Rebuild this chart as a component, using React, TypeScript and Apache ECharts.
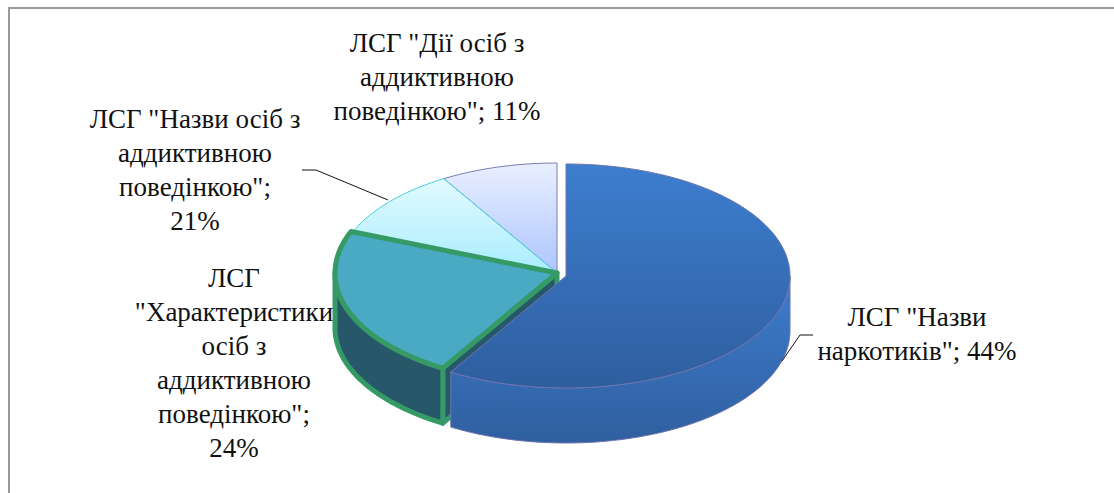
import React, { useEffect, useRef } from "react";
import * as echarts from "echarts";

const categories = [
  'ЛСГ "Назви наркотиків"',
  'ЛСГ "Характеристики осіб з аддиктивною поведінкою"',
  'ЛСГ "Назви осіб з аддиктивною поведінкою"',
  'ЛСГ "Дії осіб з аддиктивною поведінкою"',
];
// Share of the full turn each slice occupies in the picture (the drawn slices differ from their printed labels)
const drawnShares = [58.6, 22.5, 10.3, 8.6];
const labelLines = [
  ['ЛСГ "Назви', 'наркотиків"; 44%'],
  ["ЛСГ", '"Характеристики', "осіб з", "аддиктивною", 'поведінкою";', "24%"],
  ['ЛСГ "Назви осіб з', "аддиктивною", 'поведінкою";', "21%"],
  ['ЛСГ "Дії осіб з', "аддиктивною", 'поведінкою"; 11%'],
];

const FONT = '"Liberation Serif","Times New Roman",serif';

const looks = [
  { cx: 566, cy: 276, rx: 224, ry: 112, depth: 55,
    top: ["#3D7ECF", "#2F5E9F"], side: ["#3E7DCE", "#2F5F9F"], stroke: "#6E74AE", width: 1 },
  { cx: 557, cy: 273, rx: 222, ry: 111, depth: 55,
    top: ["#4AAAC4", "#4AAAC4"], side: ["#26586A", "#26586A"], stroke: "#369A66", width: 5 },
  { cx: 557, cy: 273, rx: 220, ry: 110, depth: 0,
    top: ["#E2FAFF", "#A9EDFE"], side: null, stroke: "#45CDD6", width: 1 },
  { cx: 557, cy: 273, rx: 220, ry: 110, depth: 0,
    top: ["#E9EFFF", "#ADC6FE"], side: null, stroke: "#7A7CB4", width: 1 },
];
const labelBoxes = [
  { x: 917, y: 303 },
  { x: 234, y: 264 },
  { x: 195, y: 105.5 },
  { x: 437, y: 29.5 },
];
const LINE_H = 34;
const leaders = [
  [[813, 335], [800, 335], [782, 361]],
  [[302, 170], [316, 170], [388, 200]],
];

function arc(l: any, a0: number, a1: number, dy = 0) {
  const pts: number[][] = [];
  const n = Math.max(2, Math.ceil(Math.abs(a1 - a0)));
  for (let i = 0; i <= n; i++) {
    const a = ((a0 + ((a1 - a0) * i) / n) * Math.PI) / 180;
    pts.push([l.cx + l.rx * Math.sin(a), l.cy - l.ry * Math.cos(a) + dy]);
  }
  return pts;
}
const grad = (c: string[]) =>
  new echarts.graphic.LinearGradient(0, 0, 0, 1, [
    { offset: 0, color: c[0] },
    { offset: 1, color: c[1] },
  ]);

function renderSlice(params: any, api: any) {
  const i = params.dataIndex;
  const l = looks[i];
  const total = drawnShares.reduce((s, v) => s + v, 0);
  let before = 0;
  for (let k = 0; k < i; k++) before += drawnShares[k];
  const a0 = (before / total) * 360;
  const a1 = a0 + (Number(api.value(1)) / total) * 360;
  const tip = [l.cx, l.cy];
  const children: any[] = [];
  const st = (fill: any) => ({
    fill,
    stroke: l.stroke,
    lineWidth: l.width,
    lineJoin: "round",
  });
  if (l.side) {
    if (i === 1) {
      const startP = arc(l, a0, a0)[0];
      children.push({
        type: "polygon",
        shape: { points: [tip, startP, [startP[0], startP[1] + l.depth], [tip[0], tip[1] + l.depth]] },
        style: st(l.side[0]),
      });
    }
    const from = Math.max(a0, 90);
    const to = Math.min(a1, 270);
    const top = arc(l, from, to);
    const bottom = arc(l, from, to, l.depth).reverse();
    children.push({
      type: "polygon",
      shape: { points: [...top, ...bottom] },
      style: st(grad(l.side)),
    });
  }
  children.push({
    type: "polygon",
    shape: { points: [tip, ...arc(l, a0, a1)] },
    style: st(grad(l.top)),
  });
  return { type: "group", children };
}

function renderLabel(params: any) {
  const i = params.dataIndex;
  const b = labelBoxes[i];
  return {
    type: "group",
    children: labelLines[i].map((t, k) => ({
      type: "text",
      style: {
        text: t,
        x: b.x,
        y: b.y + k * LINE_H,
        align: "center",
        verticalAlign: "top",
        font: `27px ${FONT}`,
        fill: "#111111",
      },
    })),
  };
}

export default function App() {
  const ref = useRef<HTMLDivElement>(null);
  useEffect(() => {
    const chart = echarts.init(ref.current!, null, { renderer: "svg" });
    const drawOrder = [3, 2, 1, 0];
    const data = drawOrder.map((i) => ({ name: categories[i], value: [i, drawnShares[i]] }));
    chart.setOption({
      animation: false,
      backgroundColor: "#ffffff",
      graphic: [
        {
          type: "polyline",
          shape: { points: [[9, 493], [9, 8], [1114, 8]] },
          style: { fill: "none", stroke: "#999999", lineWidth: 2 },
          silent: true,
        },
        ...leaders.map((points) => ({
          type: "polyline",
          shape: { points },
          z: 10,
          style: { fill: "none", stroke: "#111111", lineWidth: 1 },
          silent: true,
        })),
      ],
      series: [
        {
          type: "custom",
          coordinateSystem: "none",
          silent: true,
          z: 2,
          encode: { value: 1 },
          data,
          renderItem: (p: any, api: any) => {
            const idx = Number(api.value(0));
            return renderSlice({ ...p, dataIndex: idx }, api);
          },
        },
        {
          type: "custom",
          coordinateSystem: "none",
          silent: true,
          z: 3,
          data: categories.map((name, i) => ({ name, value: i })),
          renderItem: (p: any) => renderLabel(p),
        },
      ],
    });
    return () => chart.dispose();
  }, []);
  return (
    <div
      ref={ref}
      style={{ position: "absolute", left: 0, top: 0, width: 1114, height: 493 }}
    />
  );
}
